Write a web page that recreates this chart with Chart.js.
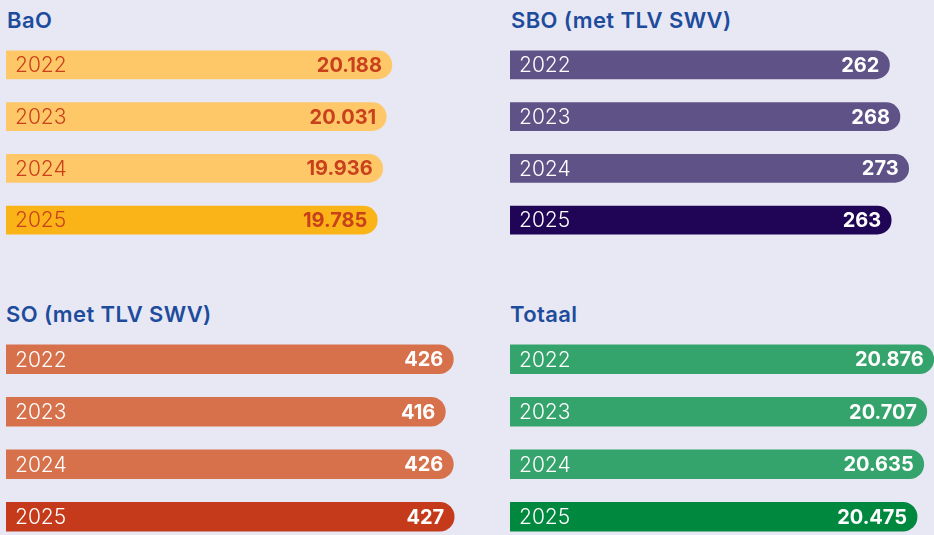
<!DOCTYPE html>
<html>
<head>
<meta charset="utf-8">
<script src="https://cdn.jsdelivr.net/npm/chart.js@4"></script>
<style>
  html, body { margin: 0; padding: 0; background: #e8e8f4; overflow: hidden; }
  body { width: 934px; height: 535px; position: relative; font-family: Inter, "Open Sans", sans-serif; }
  .title { position: absolute; font-size: 22px; font-weight: 600; color: #1e4c9d; line-height: 1; letter-spacing: 0.4px; }
  canvas { position: absolute; }
</style>
</head>
<body>
<div class="title" style="left:7px; top:9px;">BaO</div>
<div class="title" style="left:511px; top:9px;">SBO (met TLV SWV)</div>
<div class="title" style="left:6px; top:303px;">SO (met TLV SWV)</div>
<div class="title" style="left:510px; top:303px;">Totaal</div>

<canvas id="bao" width="430" height="207" style="left:6px; top:39px;"></canvas>
<canvas id="sbo" width="424" height="207" style="left:510px; top:39px;"></canvas>
<canvas id="so" width="480" height="210" style="left:6px; top:333px;"></canvas>
<canvas id="totaal" width="424" height="210" style="left:510px; top:333px;"></canvas>

<script>
// data
const years = ["2022", "2023", "2024", "2025"];

const bao_values = [20188, 20031, 19936, 19785];
const sbo_values = [262, 268, 273, 263];
const so_values = [426, 416, 426, 427];
const totaal_values = [20876, 20707, 20635, 20475];

// colours: last year is darker
const bao_colors = ["#fec868", "#fec868", "#fec868", "#fbb418"];
const sbo_colors = ["#5e5287", "#5e5287", "#5e5287", "#200456"];
const so_colors = ["#d6714b", "#d6714b", "#d6714b", "#c53a1b"];
const totaal_colors = ["#35a46c", "#35a46c", "#35a46c", "#00883e"];

function fmt(v) {
  return String(v).replace(/\B(?=(\d{3})+(?!\d))/g, ".");
}

// draws year at the left and value at the right inside each bar
const barText = {
  id: "barText",
  afterDatasetsDraw(chart, args, opts) {
    const ctx = chart.ctx;
    const meta = chart.getDatasetMeta(0);
    const values = chart.data.datasets[0].data;
    ctx.save();
    ctx.textBaseline = "middle";
    meta.data.forEach((bar, i) => {
      ctx.fillStyle = opts.color;
      ctx.font = "300 21px Inter, 'Open Sans', sans-serif";
      ctx.textAlign = "left";
      ctx.fillText(chart.data.labels[i], bar.base + 9, bar.y + 1);
      ctx.font = "700 20px Inter, 'Open Sans', sans-serif";
      ctx.textAlign = "right";
      ctx.fillText(fmt(values[i]), bar.x - 10, bar.y + 1);
    });
    ctx.restore();
  }
};

function makeChart(id, values, colors, min, max, thick, textColor) {
  return new Chart(document.getElementById(id), {
    type: "bar",
    data: {
      labels: years,
      datasets: [{
        data: values,
        base: min,
        backgroundColor: colors,
        barThickness: thick,
        borderRadius: { topLeft: 0, bottomLeft: 0, topRight: thick / 2, bottomRight: thick / 2 },
        borderSkipped: false
      }]
    },
    options: {
      indexAxis: "y",
      responsive: false,
      animation: false,
      layout: { padding: 0 },
      scales: {
        x: { display: false, min: min, max: max },
        y: { display: false }
      },
      plugins: {
        legend: { display: false },
        tooltip: { enabled: false },
        barText: { color: textColor }
      }
    },
    plugins: [barText]
  });
}

makeChart("bao", bao_values, bao_colors, 9549, 21404, 28, "#c9401c");
makeChart("sbo", sbo_values, sbo_colors, 44.8, 287.5, 28, "#ffffff");
makeChart("so", so_values, so_colors, -131.4, 466.7, 29, "#ffffff");
makeChart("totaal", totaal_values, totaal_colors, 10737, 20880, 29, "#ffffff");
</script>
</body>
</html>
